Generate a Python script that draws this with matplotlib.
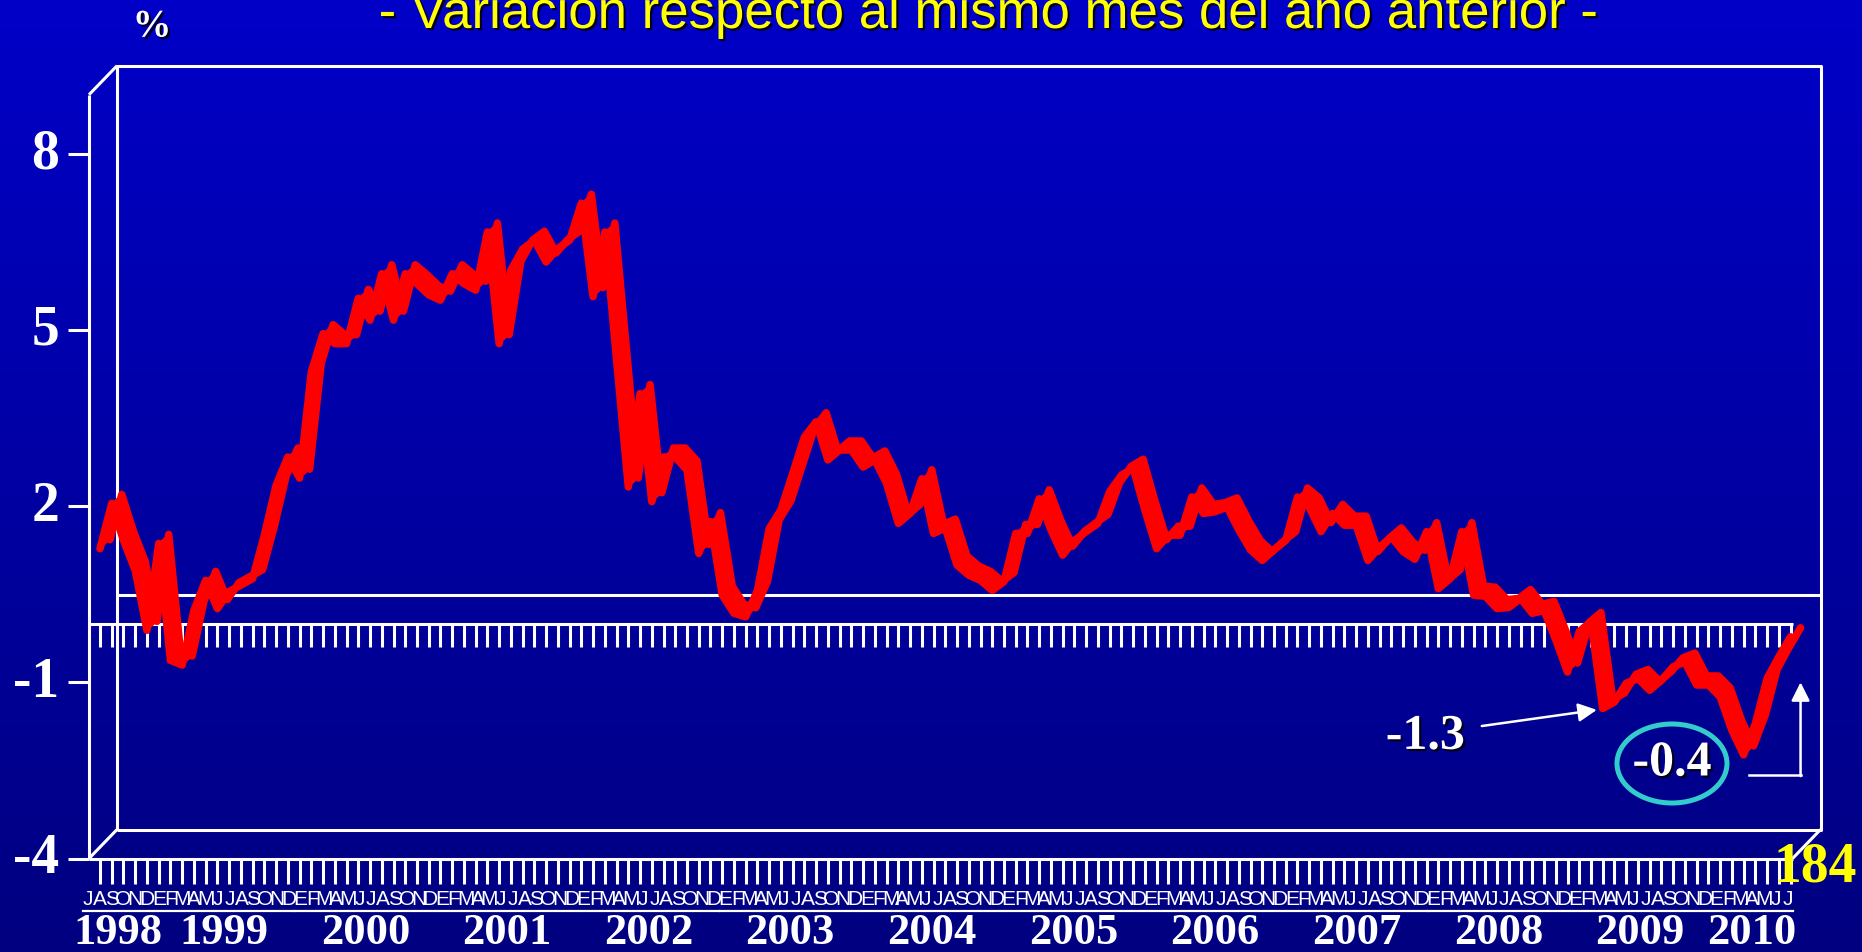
import numpy as np
import matplotlib
matplotlib.use("Agg")
import matplotlib.pyplot as plt
from matplotlib import font_manager
from matplotlib.patches import Ellipse
from matplotlib.collections import PolyCollection
import matplotlib.patheffects as pe

# ---------------- data ----------------
years = list(range(1998, 2011))
month_initials = ["E", "F", "M", "A", "M", "J", "J", "A", "S", "O", "N", "D"]
first_year_start_month = 7   # July 1998
last_year_end_month = 7      # July 2010

# year-on-year variation (%), monthly, Jul-1998 .. Jul-2010
values = [
    1.35, 2.12, 1.49, 0.98, -0.04, 1.44,                                   # 1998
    -0.55, -0.63, 0.30, 0.81, 0.33, 0.62, 0.73, 0.84, 1.58, 2.43, 2.91, 2.55,  # 1999
    4.36, 5.01, 4.84, 4.84, 5.61, 5.24, 6.03, 5.24, 6.03, 5.86, 5.67, 5.58,    # 2000
    6.03, 5.86, 5.75, 6.74, 4.84, 6.09, 6.45, 6.60, 6.23, 6.46, 6.60, 7.23,    # 2001
    5.64, 6.74, 4.56, 2.40, 3.99, 2.15, 2.91, 2.91, 2.69, 1.27, 1.81, 0.56,    # 2002
    0.25, 0.19, 0.64, 1.69, 2.01, 2.63, 3.25, 3.51, 2.86, 3.03, 3.03, 2.74,    # 2003
    2.86, 2.46, 1.78, 1.95, 2.54, 1.61, 1.70, 1.07, 0.90, 0.81, 0.64, 0.79,    # 2004
    1.61, 1.61, 2.20, 1.67, 1.24, 1.49, 1.64, 1.78, 2.32, 2.60, 2.72, 2.01,    # 2005
    1.35, 1.58, 1.58, 2.23, 1.95, 1.98, 2.06, 1.67, 1.33, 1.15, 1.33, 1.49,    # 2006
    2.23, 2.06, 1.64, 1.95, 1.75, 1.75, 1.15, 1.38, 1.55, 1.30, 1.17, 1.64,    # 2007
    0.67, 0.84, 1.64, 0.56, 0.54, 0.33, 0.35, 0.50, 0.25, 0.30, -0.20, -0.75,  # 2008
    -0.06, 0.11, -1.37, -1.26, -0.94, -0.86, -1.06, -0.89, -0.66, -0.58, -0.97, -0.97,  # 2009
    -1.17, -1.74, -2.16, -1.63, -0.86, -0.49, -0.15,                         # 2010
]
ytick_values = [8, 5, 2, -1, -4]
ytick_labels = ["8", "5", "2", "-1", "-4"]
title_text = "- Variación respecto al mismo mes del año anterior -"
unit_text = "%"
label_low = "-1.3"
label_last = "-0.4"
corner_number = "184"

# ---------------- month axis ----------------
month_year, month_letter = [], []
for y in years:
    m0 = first_year_start_month if y == years[0] else 1
    m1 = last_year_end_month if y == years[-1] else 12
    for m in range(m0, m1 + 1):
        month_year.append(y)
        month_letter.append(month_initials[m - 1])
n = len(month_letter)
idx = np.arange(n)
vals = np.array(values)
assert len(vals) == n

# ---------------- layout (pixels -> data units) ----------------
W, H, DPI = 1862, 953, 100
PX_MONTH = 11.74      # px per month
X0_PX = 100.0         # pixel x of first month
PX_UNIT = 58.75       # px per percent point
Y8_PX = 154.5         # pixel y (from top) of value 8


def px(p):
    return p / PX_MONTH


def py(p):
    return p / PX_UNIT


def pick_font(cands):
    for c in cands:
        try:
            font_manager.findfont(font_manager.FontProperties(family=c),
                                  fallback_to_default=False)
            return c
        except Exception:
            pass
    return "DejaVu Sans"


SERIF = pick_font(["Liberation Serif", "DejaVu Serif"])
SANS = pick_font(["Liberation Sans", "DejaVu Sans"])
NARROW = pick_font(["Liberation Sans Narrow", "DejaVu Sans Condensed", "Liberation Sans"])

fig = plt.figure(figsize=(W / DPI, H / DPI), dpi=DPI)
ax = fig.add_axes([0, 0, 1, 1])
xlim = ((0 - X0_PX) / PX_MONTH, (W - X0_PX) / PX_MONTH)
ylim = (8 - (H - Y8_PX) / PX_UNIT, 8 + Y8_PX / PX_UNIT)
ax.set_xlim(*xlim)
ax.set_ylim(*ylim)
ax.axis("off")

# background gradient
grad = np.linspace(0, 1, 256)[:, None]
top = np.array([0, 0, 200]) / 255.0
bot = np.array([0, 0, 128]) / 255.0
img = (top[None, None, :] * (1 - grad[:, :, None]) + bot[None, None, :] * grad[:, :, None])
ax.imshow(img, extent=[xlim[0], xlim[1], ylim[0], ylim[1]], aspect="auto",
          origin="upper", zorder=0)

# ---------------- 3D frame ----------------
WHITE = "white"
FLW = 2.2
x_fl = px(89 - X0_PX)
x_fr = (n - 1) + px(2)
DXd, DYd = px(28), py(29)
y_top, y_bot = 9.0, -4.0
x_bl, x_br = x_fl + DXd, x_fr + DXd
y_bt, y_bb = y_top + DYd, y_bot + DYd

seg = dict(color=WHITE, lw=FLW, solid_capstyle="butt", zorder=2)
ax.plot([x_fl, x_fl], [y_bot, y_top], **seg)
ax.plot([x_fl, x_bl], [y_top, y_bt], **seg)
ax.plot([x_fl, x_bl], [y_bot, y_bb], **seg)
ax.plot([x_bl, x_br, x_br, x_bl, x_bl], [y_bb, y_bb, y_bt, y_bt, y_bb], **seg)
ax.plot([x_fr, x_br], [y_bot, y_bb], **seg)
ax.plot([x_fl, x_fr], [y_bot, y_bot], **seg)
ax.plot([x_bl, x_br], [DYd, DYd], **seg)
ax.plot([x_fl, x_fr], [0, 0], **seg)
ax.vlines(idx, -py(23), 0, color=WHITE, lw=2.2, zorder=2)
ax.vlines(idx, y_bot - py(25), y_bot, color=WHITE, lw=2.2, zorder=2)

# y ticks and labels
ax.hlines(ytick_values, x_fl - px(21), x_fl, color=WHITE, lw=FLW, zorder=2)
for v, s in zip(ytick_values, ytick_labels):
    ax.text(x_fl - px(30), v, s, ha="right", va="center", fontsize=40,
            fontweight="bold", family=SERIF, color=WHITE, zorder=3)

# ---------------- red ribbon line ----------------
RED = "#ff0000"
fx, fy = idx.astype(float), vals - py(4.5)
bx, by = idx + px(10), vals + py(4.5)
polys = [[(fx[k], fy[k]), (fx[k + 1], fy[k + 1]), (bx[k + 1], by[k + 1]), (bx[k], by[k])]
         for k in range(n - 1)]
ax.add_collection(PolyCollection(polys, facecolor=RED, edgecolor=RED, lw=0.8, zorder=5))
ax.plot(fx, fy, color=RED, lw=5.4, solid_joinstyle="round", solid_capstyle="round", zorder=5)
ax.plot(bx, by, color=RED, lw=5.4, solid_joinstyle="round", solid_capstyle="round", zorder=5)

# ---------------- month & year labels ----------------
v_month = y_bot - py(40)
v_uline = y_bot - py(52)
v_year = y_bot - py(74)
offs = np.array([px(-12 + 9 * k / (n - 1)) for k in range(n)])
mx = idx + offs
for x, s in zip(mx, month_letter):
    ax.text(x, v_month, s, ha="center", va="center", fontsize=15, family=NARROW,
            color=WHITE, zorder=3)
month_year = np.array(month_year)
for y in years:
    sel = month_year == y
    xa, xb = mx[sel].min() - px(5), mx[sel].max() + px(5)
    ax.plot([xa, xb], [v_uline, v_uline], color=WHITE, lw=1.6, zorder=3)
    ax.text((xa + xb) / 2, v_year, str(y), ha="center", va="center", fontsize=32,
            fontweight="bold", family=SERIF, color=WHITE, zorder=3)

# ---------------- title and texts ----------------
shadow = [pe.withSimplePatchShadow(offset=(1.6, -1.6), shadow_rgbFace="#00001a", alpha=1.0)]
fig.text(988 / W, 1 - 29 / H, title_text, ha="center", va="baseline", fontsize=38,
         family=SANS, color="#ffff00", path_effects=shadow)
fig.text(152 / W, 1 - 28 / H, unit_text, ha="center", va="center", fontsize=28,
         fontweight="bold", family=SERIF, color=WHITE, path_effects=shadow)

# annotation for the 2009 low
i_low = int(np.argmin(vals[:-10]))
ax.annotate("", xy=(idx[i_low] - 0.5, vals[i_low] - 0.1), xytext=(117.7, -1.745),
            arrowprops=dict(arrowstyle="-|>", color=WHITE, lw=1.8, mutation_scale=28,
                            shrinkA=0, shrinkB=0), zorder=6)
ax.text(112.9, -1.93, label_low, ha="center", va="center", fontsize=36, fontweight="bold",
        family=SERIF, color=WHITE, path_effects=shadow, zorder=6)

# latest value in an ellipse with bracket arrow
ell_c = (133.9, -2.383)
ax.add_patch(Ellipse(ell_c, width=px(110), height=py(79), fill=False, edgecolor="#33cccc",
                     lw=3.6, zorder=6))
ax.text(ell_c[0], ell_c[1], label_last, ha="center", va="center", fontsize=36,
        fontweight="bold", family=SERIF, color=WHITE, path_effects=shadow, zorder=7)
x_br_arrow = idx[-1] + px(10)
ax.plot([140.5, x_br_arrow], [-2.58, -2.58], color=WHITE, lw=1.8, zorder=6)
ax.annotate("", xy=(x_br_arrow, -1.0), xytext=(x_br_arrow, -2.58 - py(1)),
            arrowprops=dict(arrowstyle="-|>", color=WHITE, lw=1.8, mutation_scale=28,
                            shrinkA=0, shrinkB=0), zorder=6)

ax.text(146.1, -4.13, corner_number, ha="center", va="center", fontsize=40,
        fontweight="bold", family=SERIF, color="#ffff00", zorder=8)

fig.savefig("out.png", dpi=DPI)
